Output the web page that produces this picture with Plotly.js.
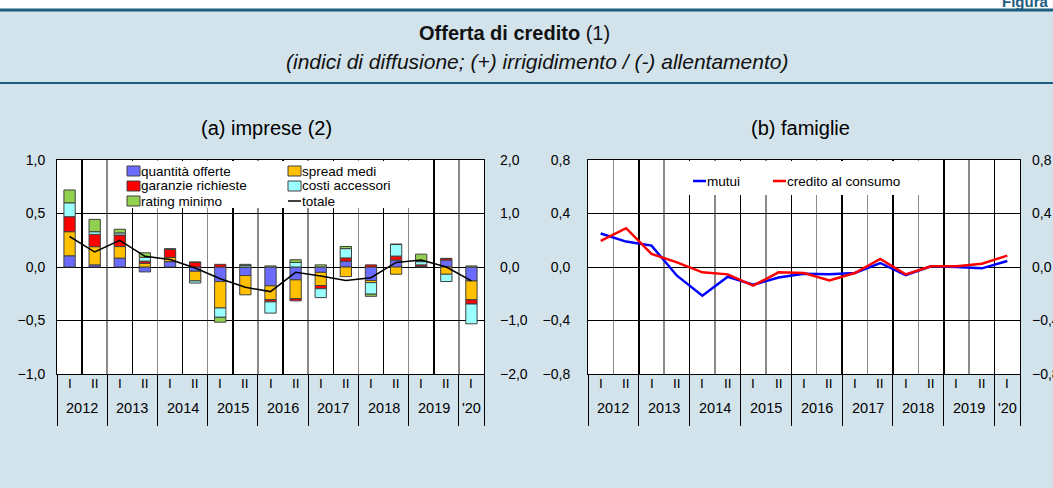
<!DOCTYPE html>
<html>
<head>
<meta charset="utf-8">
<script src="https://cdn.plot.ly/plotly-3.0.1.min.js"></script>
<style>
  html, body { margin: 0; padding: 0; background: #d3e3ec; }
  #chart { width: 1053px; height: 488px; }
</style>
</head>
<body>
<div id="chart"></div>
<script>
// semesters 2012 I .. 2020 I
const halves = ['I','II','I','II','I','II','I','II','I','II','I','II','I','II','I','II','I'];
const years = ['2012','2013','2014','2015','2016','2017','2018','2019',"'20"];

// (a) imprese - contributions (left axis)
const quantita = [0.105, 0.02, 0.083, -0.046, 0.05, -0.04, -0.136, -0.08, -0.176, -0.12, -0.05, 0.055, -0.126, 0.065, 0.005, 0.065, -0.13];
const spread   = [0.225, 0.17, 0.108, 0.035, 0.04, -0.09, -0.247, -0.18, -0.13, -0.176, -0.123, -0.09, -0.02, -0.068, 0, -0.068, -0.176];
const garanzie = [0.14, 0.115, 0.108, 0.02, 0.077, 0.045, 0.025, 0, -0.02, -0.02, -0.03, 0.03, 0.02, 0.037, 0.015, 0.015, -0.04];
const costi    = [0.13, 0.025, 0.02, 0.035, 0, -0.02, -0.087, 0.015, -0.105, 0.043, -0.083, 0.087, -0.108, 0.108, 0.03, -0.068, -0.185];
const rating   = [0.12, 0.115, 0.034, 0.043, 0, 0, -0.046, 0.01, 0.01, 0.025, 0.02, 0.02, -0.02, 0.005, 0.07, 0, 0.01];
// totale (right axis)
const totale   = [0.57, 0.28, 0.5, 0.2, 0.14, -0.02, -0.22, -0.38, -0.46, -0.1, -0.17, -0.25, -0.2, 0.085, 0.13, 0, -0.26];

// (b) famiglie
const mutui    = [0.25, 0.19, 0.16, -0.065, -0.215, -0.073, -0.133, -0.078, -0.05, -0.055, -0.045, 0.03, -0.06, 0.005, 0, -0.01, 0.045];
const credito  = [0.195, 0.29, 0.098, 0.035, -0.04, -0.055, -0.14, -0.04, -0.045, -0.10, -0.045, 0.06, -0.055, 0.005, 0.005, 0.025, 0.085];

const FONT = 'Liberation Sans, Arial, sans-serif';
const W = 1053, H = 488;
const xc = halves.map((h, i) => i + 0.5);
const yearBounds = [0, 2, 4, 6, 8, 10, 12, 14, 16, 17];
const midBounds = [1, 3, 5, 7, 9, 11, 13, 15];

function barTrace(name, values, color) {
  return {
    type: 'bar', name: name, x: xc, y: values,
    xaxis: 'x', yaxis: 'y', width: 0.45, showlegend: false,
    marker: { color: color, line: { color: '#404040', width: 1 } },
    hoverinfo: 'skip'
  };
}

const data = [
  barTrace('quantità offerte', quantita, '#6b6bff'),
  barTrace('spread medi', spread, '#ffc000'),
  barTrace('garanzie richieste', garanzie, '#ff0000'),
  barTrace('costi accessori', costi, '#99ffff'),
  barTrace('rating minimo', rating, '#92d050'),
  { type: 'scatter', mode: 'lines', name: 'totale', x: xc, y: totale,
    xaxis: 'x', yaxis: 'y2', showlegend: false,
    line: { color: '#000000', width: 1.5 } },
  { type: 'scatter', mode: 'lines', name: 'mutui', x: xc, y: mutui,
    xaxis: 'x2', yaxis: 'y3', showlegend: false,
    line: { color: '#0000ff', width: 2.5 } },
  // same scale as y3; on y4 so the right-hand axis gets drawn
  { type: 'scatter', mode: 'lines', name: 'credito al consumo', x: xc, y: credito,
    xaxis: 'x2', yaxis: 'y4', showlegend: false,
    line: { color: '#ff0000', width: 2.5 } }
];

function xAxis(domain, majorGrid, minorGrid) {
  return {
    domain: domain, range: [0, 17], fixedrange: true,
    tickmode: 'array', tickvals: yearBounds, showticklabels: false,
    ticks: 'outside', ticklen: 51, tickcolor: '#000', tickwidth: 1,
    showgrid: true, gridcolor: majorGrid, gridwidth: 1.5,
    minor: { tickmode: 'array', tickvals: midBounds, showgrid: true, gridcolor: minorGrid, gridwidth: 1.5, ticks: '' },
    showline: true, linecolor: '#000', linewidth: 1, mirror: true, zeroline: false
  };
}

function yAxis(range, dtick, side, overlay, anchor, standoff) {
  const ax = {
    domain: [1 - 374 / H, 1 - 160 / H], range: range, dtick: dtick, tickformat: '.1f',
    side: side, anchor: anchor, fixedrange: true,
    tickfont: { family: FONT, size: 14, color: '#000' },
    ticks: '', ticklabelstandoff: standoff, ticklabeloverflow: 'allow',
    showgrid: !overlay, gridcolor: '#000', gridwidth: 1,
    zeroline: !overlay, zerolinecolor: '#000', zerolinewidth: 1,
    showline: !overlay, linecolor: '#000', mirror: true
  };
  if (overlay) ax.overlaying = overlay;
  return ax;
}

function paperText(text, px, py, size, extra) {
  return Object.assign({ text: text, xref: 'paper', yref: 'paper', x: px / W, y: 1 - py / H,
    xanchor: 'center', yanchor: 'middle', showarrow: false,
    font: { family: FONT, size: size, color: '#000' } }, extra || {});
}

const annotations = [
  paperText('<b>Figura 1.1</b>', 1000, 2, 15, { xanchor: 'left', font: { family: FONT, size: 15, color: '#1b5e80' } }),
  paperText('<b>Offerta di credito</b> (1)', 514, 33, 20, { font: { family: FONT, size: 20, color: '#111' } }),
  paperText('<i>(indici di diffusione; (+) irrigidimento / (-) allentamento)</i>', 537, 61, 21,
    { font: { family: FONT, size: 21, color: '#111' } }),
  paperText('(a) imprese (2)', 266, 128, 20),
  paperText('(b) famiglie', 800, 128, 20)
];

['x', 'x2'].forEach(function (xr) {
  halves.forEach(function (h, i) {
    annotations.push({ text: h, xref: xr, yref: 'paper', x: xc[i], y: 1 - 393 / H,
      showarrow: false, font: { family: FONT, size: 13.5, color: '#000' } });
  });
  years.forEach(function (yl, k) {
    annotations.push({ text: yl, xref: xr, yref: 'paper', x: (yearBounds[k] + yearBounds[k + 1]) / 2, y: 1 - 418 / H,
      showarrow: false, font: { family: FONT, size: 14.5, color: '#000' } });
  });
});

const shapes = [
  { type: 'rect', xref: 'paper', yref: 'paper', x0: 0, x1: 1, y0: 1 - 10 / H, y1: 1,
    fillcolor: '#ffffff', line: { width: 0 }, layer: 'below' },
  { type: 'line', xref: 'paper', yref: 'paper', x0: 0, x1: 1, y0: 1 - 10 / H, y1: 1 - 10 / H,
    line: { color: '#1b5e80', width: 3 } },
  { type: 'line', xref: 'paper', yref: 'paper', x0: 0, x1: 1, y0: 1 - 83 / H, y1: 1 - 83 / H,
    line: { color: '#1b5e80', width: 2 } },
  // white legend panels
  { type: 'rect', xref: 'paper', yref: 'paper', x0: 120 / W, x1: 430 / W, y0: 1 - 208 / H, y1: 1 - 161 / H,
    fillcolor: '#ffffff', line: { width: 0 }, layer: 'above' },
  { type: 'rect', xref: 'paper', yref: 'paper', x0: 670 / W, x1: 930 / W, y0: 1 - 195 / H, y1: 1 - 161 / H,
    fillcolor: '#ffffff', line: { width: 0 }, layer: 'above' }
];

// legend entries (built from the traces): [trace index, symbol left px, row centre px]
const legendLeft = [[0, 127, 171], [2, 127, 186], [4, 127, 201], [1, 288, 171], [3, 288, 186], [5, 288, 201]];
const legendRight = [[6, 693, 181], [7, 773, 181]];

legendLeft.concat(legendRight).forEach(function (e) {
  const tr = data[e[0]], x0 = e[1], yc = e[2];
  if (tr.type === 'bar') {
    shapes.push({ type: 'rect', xref: 'paper', yref: 'paper', x0: x0 / W, x1: (x0 + 13) / W,
      y0: 1 - (yc + 5) / H, y1: 1 - (yc - 5) / H, fillcolor: tr.marker.color,
      line: { color: '#404040', width: 1 }, layer: 'above' });
  } else {
    shapes.push({ type: 'line', xref: 'paper', yref: 'paper', x0: x0 / W, x1: (x0 + 13) / W,
      y0: 1 - yc / H, y1: 1 - yc / H, line: { color: tr.line.color, width: tr.line.width }, layer: 'above' });
  }
  annotations.push(paperText(tr.name, x0 + 13, yc, 13.5, { xanchor: 'left', borderpad: 0 }));
});

const layout = {
  width: W, height: H,
  margin: { l: 0, r: 0, t: 0, b: 0 },
  paper_bgcolor: '#d3e3ec', plot_bgcolor: '#ffffff',
  separators: ',.',
  font: { family: FONT, size: 13, color: '#000' },
  barmode: 'relative',
  showlegend: false,
  xaxis: xAxis([57 / W, 484 / W], '#8a8a8a', '#000000'),
  xaxis2: xAxis([588 / W, 1020 / W], '#000000', '#8a8a8a'),
  yaxis: yAxis([-1, 1], 0.5, 'left', null, 'x', 8),
  yaxis2: yAxis([-2, 2], 1, 'right', 'y', 'x', 15),
  yaxis3: yAxis([-0.8, 0.8], 0.4, 'left', null, 'x2', 14),
  yaxis4: yAxis([-0.8, 0.8], 0.4, 'right', 'y3', 'x2', 11),
  shapes: shapes,
  annotations: annotations
};

Plotly.newPlot('chart', data, layout, { displayModeBar: false, staticPlot: true });
</script>
</body>
</html>
